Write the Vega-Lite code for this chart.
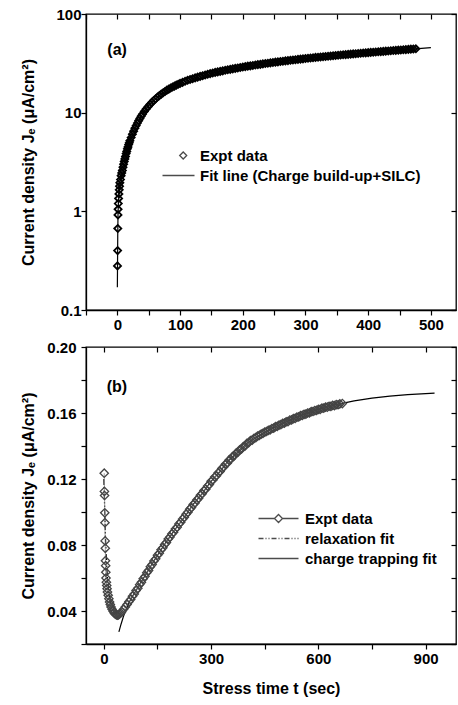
{
  "$schema": "https://vega.github.io/schema/vega-lite/v6.json",
  "padding": {"left": 20, "top": 6, "right": 0, "bottom": 2},
  "spacing": 6,
  "resolve": {"scale": {"shape": "independent"}, "legend": {"shape": "independent"}},
  "config": {
    "font": "Liberation Sans",
    "view": {"stroke": "black", "strokeWidth": 1.3},
    "axis": {
      "labelFont": "Liberation Sans", "labelFontSize": 15, "labelFontWeight": "bold", "labelColor": "black",
      "titleFont": "Liberation Sans", "titleFontSize": 16, "titleFontWeight": "bold", "titleColor": "black",
      "domainColor": "black", "domainWidth": 1.3, "tickColor": "black", "tickWidth": 1.2, "tickSize": 5,
      "grid": false, "labelPadding": 2
    },
    "legend": {
      "labelFont": "Liberation Sans", "labelFontSize": 15, "labelFontWeight": "bold", "labelColor": "black",
      "labelLimit": 0, "padding": 0, "rowPadding": 4, "symbolStrokeWidth": 1.3
    }
  },
  "datasets": {
    "expt_a": [
      {"t":0.2,"J":0.28},{"t":0.4,"J":0.4},{"t":0.7,"J":0.67},{"t":1,"J":0.92},{"t":1.2,"J":1.05},{"t":1.5,"J":1.2},{"t":2,"J":1.35},{"t":2.5,"J":1.5},{"t":3,"J":1.65},{"t":3.5,"J":1.8},{"t":4,"J":1.95},{"t":5,"J":2.1},{"t":6,"J":2.3},{"t":7,"J":2.45},{"t":8,"J":2.6},{"t":9,"J":2.8},{"t":10,"J":3.0},{"t":11,"J":3.2},{"t":12,"J":3.4},{"t":13,"J":3.6},{"t":14,"J":3.85},{"t":15,"J":4.05},{"t":16,"J":4.3},{"t":17,"J":4.5},{"t":18,"J":4.75},{"t":19,"J":4.95},{"t":20,"J":5.2},{"t":22,"J":5.6},{"t":24,"J":6.05},{"t":26,"J":6.5},{"t":28,"J":6.95},{"t":30,"J":7.4},{"t":32,"J":7.85},{"t":34,"J":8.3},{"t":36,"J":8.75},{"t":38,"J":9.2},{"t":40,"J":9.65},{"t":43,"J":10.3},{"t":46,"J":10.9},{"t":49,"J":11.5},{"t":52,"J":12.1},{"t":55,"J":12.7},{"t":58,"J":13.3},{"t":61,"J":13.8},{"t":64,"J":14.4},{"t":67,"J":14.9},{"t":70,"J":15.4},{"t":73,"J":15.9},{"t":76,"J":16.4},{"t":79,"J":16.9},{"t":82,"J":17.3},{"t":85,"J":17.8},{"t":88,"J":18.2},{"t":91,"J":18.6},{"t":94,"J":19.0},{"t":97,"J":19.4},{"t":100,"J":19.8},
      {"t":104,"J":20.3},{"t":108,"J":20.8},{"t":112,"J":21.3},{"t":116,"J":21.7},{"t":120,"J":22.1},{"t":124,"J":22.5},{"t":128,"J":22.9},{"t":132,"J":23.3},{"t":136,"J":23.7},{"t":140,"J":24.1},{"t":144,"J":24.5},{"t":148,"J":24.9},{"t":152,"J":25.2},{"t":156,"J":25.6},{"t":160,"J":25.9},{"t":164,"J":26.2},{"t":168,"J":26.5},{"t":172,"J":26.9},{"t":176,"J":27.2},{"t":180,"J":27.5},{"t":184,"J":27.8},{"t":188,"J":28.1},{"t":192,"J":28.4},{"t":196,"J":28.7},{"t":200,"J":29.0},{"t":204,"J":29.3},{"t":208,"J":29.6},{"t":212,"J":29.8},{"t":216,"J":30.1},{"t":220,"J":30.4},{"t":224,"J":30.7},{"t":228,"J":30.9},{"t":232,"J":31.2},{"t":236,"J":31.5},{"t":240,"J":31.7},{"t":244,"J":32.0},{"t":248,"J":32.2},{"t":252,"J":32.5},{"t":256,"J":32.7},{"t":260,"J":33.0},{"t":264,"J":33.2},{"t":268,"J":33.5},{"t":272,"J":33.7},{"t":276,"J":34.0},{"t":280,"J":34.2},{"t":284,"J":34.4},{"t":288,"J":34.7},{"t":292,"J":34.9},{"t":296,"J":35.1},{"t":300,"J":35.4},{"t":304,"J":35.6},{"t":308,"J":35.8},{"t":312,"J":36.0},{"t":316,"J":36.3},{"t":320,"J":36.5},{"t":324,"J":36.7},{"t":328,"J":36.9},{"t":332,"J":37.1},{"t":336,"J":37.3},{"t":340,"J":37.5},{"t":344,"J":37.8},{"t":348,"J":38.0},{"t":352,"J":38.2},{"t":356,"J":38.4},{"t":360,"J":38.6},{"t":364,"J":38.8},{"t":368,"J":39.0},{"t":372,"J":39.2},{"t":376,"J":39.4},{"t":380,"J":39.6},{"t":384,"J":39.8},{"t":388,"J":40.0},{"t":392,"J":40.2},{"t":396,"J":40.4},{"t":400,"J":40.6},{"t":404,"J":40.8},{"t":408,"J":41.0},{"t":412,"J":41.2},{"t":416,"J":41.4},{"t":420,"J":41.6},{"t":424,"J":41.8},{"t":428,"J":42.0},{"t":432,"J":42.2},{"t":436,"J":42.4},{"t":440,"J":42.6},{"t":444,"J":42.8},{"t":448,"J":43.0},{"t":452,"J":43.2},{"t":456,"J":43.4},{"t":460,"J":43.6},{"t":464,"J":43.8},{"t":468,"J":44.0},{"t":472,"J":44.2},{"t":476,"J":44.4}
    ],
    "fit_a": [
      {"t":0,"J":0.17},{"t":0.3,"J":0.3},{"t":0.6,"J":0.55},{"t":1,"J":0.9},{"t":1.5,"J":1.15},{"t":2.5,"J":1.5},{"t":4,"J":1.95},{"t":6,"J":2.3},{"t":8,"J":2.6},{"t":10,"J":3.0},{"t":14,"J":3.85},{"t":18,"J":4.75},{"t":22,"J":5.6},{"t":26,"J":6.5},{"t":30,"J":7.4},{"t":35,"J":8.5},{"t":40,"J":9.65},{"t":50,"J":11.9},{"t":60,"J":13.6},{"t":70,"J":15.4},{"t":85,"J":17.8},{"t":100,"J":19.8},{"t":120,"J":22.1},{"t":140,"J":24.1},{"t":160,"J":25.9},{"t":180,"J":27.5},{"t":200,"J":29.0},{"t":240,"J":31.7},{"t":280,"J":34.2},{"t":320,"J":36.5},{"t":360,"J":38.6},{"t":400,"J":40.6},{"t":440,"J":42.6},{"t":480,"J":44.6},{"t":500,"J":45.6}
    ],
    "expt_b": [
      {"t":1,"J":0.1235},{"t":1.5,"J":0.1125},{"t":2,"J":0.110},{"t":2.5,"J":0.0995},{"t":3,"J":0.0935},{"t":3.5,"J":0.0825},{"t":4,"J":0.078},{"t":4.5,"J":0.0705},{"t":5,"J":0.0675},{"t":5.5,"J":0.0635},{"t":6,"J":0.060},{"t":7,"J":0.0575},{"t":8,"J":0.0555},{"t":9,"J":0.0535},{"t":10,"J":0.0515},{"t":12,"J":0.0495},{"t":14,"J":0.0475},{"t":16,"J":0.0455},{"t":18,"J":0.044},{"t":20,"J":0.0425},{"t":23,"J":0.041},{"t":26,"J":0.0398},{"t":29,"J":0.0388},{"t":32,"J":0.0381},{"t":35,"J":0.0377},{"t":38,"J":0.0375},{"t":41,"J":0.0377},{"t":44,"J":0.0382},{"t":47,"J":0.0388},{"t":50,"J":0.0395},{"t":55,"J":0.041},{"t":60,"J":0.0425},{"t":65,"J":0.044},{"t":70,"J":0.0456},{"t":75,"J":0.047},{"t":80,"J":0.0489},{"t":85,"J":0.0503},{"t":90,"J":0.0524},{"t":95,"J":0.0538},{"t":100,"J":0.056},{"t":105,"J":0.0574},{"t":110,"J":0.0596},{"t":115,"J":0.061},{"t":120,"J":0.0632},{"t":125,"J":0.0645},{"t":130,"J":0.0668},{"t":135,"J":0.0682},{"t":140,"J":0.0703},{"t":145,"J":0.0716},{"t":150,"J":0.0738},{"t":155,"J":0.075},{"t":160,"J":0.0771},{"t":165,"J":0.0783},{"t":170,"J":0.0803},{"t":175,"J":0.0815},{"t":180,"J":0.0836},{"t":185,"J":0.0848},{"t":190,"J":0.0867},{"t":195,"J":0.0878},{"t":200,"J":0.0897},{"t":205,"J":0.0908},{"t":210,"J":0.0928},{"t":215,"J":0.0938},{"t":220,"J":0.0957},{"t":225,"J":0.0968},{"t":230,"J":0.0987},{"t":235,"J":0.0998},{"t":240,"J":0.1017},{"t":245,"J":0.1027},{"t":250,"J":0.1046},{"t":255,"J":0.1055},{"t":260,"J":0.1073},{"t":265,"J":0.1083},{"t":270,"J":0.1102},{"t":275,"J":0.1111},{"t":280,"J":0.113},{"t":285,"J":0.1138},{"t":290,"J":0.1157},{"t":295,"J":0.1166},{"t":300,"J":0.1186},{"t":305,"J":0.1194},{"t":310,"J":0.1212},{"t":315,"J":0.122},{"t":320,"J":0.1238},{"t":325,"J":0.1246},{"t":330,"J":0.1264},{"t":335,"J":0.1272},{"t":340,"J":0.1289},{"t":345,"J":0.1296},{"t":350,"J":0.1314},{"t":355,"J":0.132},{"t":360,"J":0.1336},{"t":365,"J":0.1342},{"t":370,"J":0.1357},{"t":375,"J":0.1362},{"t":380,"J":0.1377},{"t":385,"J":0.1382},{"t":390,"J":0.1396},{"t":395,"J":0.14},{"t":400,"J":0.1416},{"t":405,"J":0.142},{"t":410,"J":0.1432},{"t":415,"J":0.1436},{"t":420,"J":0.1447},{"t":425,"J":0.1451},{"t":430,"J":0.146},{"t":435,"J":0.1465},{"t":440,"J":0.1472},{"t":445,"J":0.1477},{"t":450,"J":0.1484},{"t":455,"J":0.1488},{"t":460,"J":0.1495},{"t":465,"J":0.1498},{"t":470,"J":0.1506},{"t":475,"J":0.1508},{"t":480,"J":0.1517},{"t":485,"J":0.1519},{"t":490,"J":0.1527},{"t":495,"J":0.1529},{"t":500,"J":0.1537},{"t":505,"J":0.1539},{"t":510,"J":0.1547},{"t":515,"J":0.1548},{"t":520,"J":0.1557},{"t":525,"J":0.1558},{"t":530,"J":0.1566},{"t":535,"J":0.1567},{"t":540,"J":0.1575},{"t":545,"J":0.1576},{"t":550,"J":0.1584},{"t":555,"J":0.1585},{"t":560,"J":0.1592},{"t":565,"J":0.1593},{"t":570,"J":0.16},{"t":575,"J":0.1601},{"t":580,"J":0.1608},{"t":585,"J":0.1609},{"t":590,"J":0.1615},{"t":595,"J":0.1616},{"t":600,"J":0.1622},{"t":605,"J":0.1622},{"t":610,"J":0.1629},{"t":615,"J":0.1629},{"t":620,"J":0.1635},{"t":625,"J":0.1635},{"t":630,"J":0.1641},{"t":635,"J":0.164},{"t":640,"J":0.1646},{"t":645,"J":0.1645},{"t":650,"J":0.1651},{"t":655,"J":0.165},{"t":660,"J":0.1655},{"t":667,"J":0.1657}
    ],
    "relax_b": [
      {"t":0,"J":0.12},{"t":2,"J":0.104},{"t":4,"J":0.088},{"t":6,"J":0.076},{"t":8,"J":0.067},{"t":10,"J":0.06},{"t":13,"J":0.053},{"t":16,"J":0.048},{"t":20,"J":0.0435},{"t":25,"J":0.0405},{"t":30,"J":0.039},{"t":36,"J":0.038}
    ],
    "trap_b": [
      {"t":42,"J":0.0273},{"t":48,"J":0.032},{"t":54,"J":0.0362},{"t":60,"J":0.0398},{"t":66,"J":0.043},{"t":72,"J":0.0458},{"t":80,"J":0.0489},{"t":90,"J":0.0524},{"t":100,"J":0.056},{"t":120,"J":0.0632},{"t":140,"J":0.0703},{"t":160,"J":0.0771},{"t":180,"J":0.0836},{"t":200,"J":0.0897},{"t":225,"J":0.0968},{"t":250,"J":0.1046},{"t":275,"J":0.1111},{"t":300,"J":0.1186},{"t":325,"J":0.1246},{"t":350,"J":0.1314},{"t":375,"J":0.1362},{"t":400,"J":0.1416},{"t":450,"J":0.1484},{"t":500,"J":0.1537},{"t":550,"J":0.1584},{"t":600,"J":0.1622},{"t":650,"J":0.1651},{"t":700,"J":0.1673},{"t":750,"J":0.169},{"t":800,"J":0.1702},{"t":850,"J":0.1711},{"t":900,"J":0.1717},{"t":925,"J":0.172}
    ]
  },
  "vconcat": [
    {
      "width": 370,
      "height": 296,
      "layer": [
        {
          "data": {"name": "fit_a"},
          "mark": {"type": "line", "color": "black", "strokeWidth": 1.2},
          "encoding": {
            "x": {"field": "t", "type": "quantitative", "scale": {"domain": [-50, 540], "nice": false, "zero": false},
                  "axis": {"orient": "top", "values": [-50,0,50,100,150,200,250,300,350,400,450,500], "labels": false, "tickSize": -5, "domain": false, "title": null}},
            "y": {"field": "J", "type": "quantitative", "scale": {"type": "log", "domain": [0.1, 100], "nice": false},
                  "axis": {"orient": "right", "values": [0.1, 1, 10, 100], "labels": false, "tickSize": -5, "domain": false, "title": null}}
          }
        },
        {
          "data": {"name": "expt_a"},
          "mark": {"type": "point", "shape": "diamond", "filled": false, "color": "black", "strokeWidth": 1.8, "size": 50, "opacity": 1},
          "encoding": {
            "x": {"field": "t", "type": "quantitative", "scale": {"domain": [-50, 540], "nice": false, "zero": false},
                  "axis": {"orient": "bottom", "values": [-50,0,50,100,150,200,250,300,350,400,450,500], "labelExpr": "datum.value % 100 === 0 ? datum.label : ''", "format": "d", "title": null}},
            "y": {"field": "J", "type": "quantitative", "scale": {"type": "log", "domain": [0.1, 100], "nice": false},
                  "axis": {"orient": "left", "values": [0.1, 1, 10, 100], "format": "~g", "labelPadding": 0, "titlePadding": 19, "title": "Current density Jₑ (μA/cm²)"}}
          }
        },
        {
          "data": {"values": []},
          "mark": {"type": "point", "filled": false, "color": "black", "strokeWidth": 1.3},
          "encoding": {
            "shape": {"field": "seriesA", "type": "nominal",
              "scale": {"domain": ["Expt data", "Fit line (Charge build-up+SILC)"],
                        "range": ["M0.24,0L0.94,-0.7L1.64,0L0.94,0.7Z", "M-3.2,0L3.2,0"]},
              "legend": {"orient": "none", "legendX": 85, "legendY": 134, "title": null, "symbolSize": 100, "labelOffset": 14}}
          }
        },
        {
          "data": {"values": [{}]},
          "mark": {"type": "text", "font": "Liberation Sans", "fontSize": 16, "fontWeight": "bold", "color": "black", "align": "left", "baseline": "middle"},
          "encoding": {
            "x": {"datum": -16, "type": "quantitative", "axis": null},
            "y": {"datum": 43, "type": "quantitative", "axis": null},
            "text": {"value": "(a)"}
          }
        }
      ],
      "resolve": {"axis": {"x": "independent", "y": "independent"}}
    },
    {
      "width": 370,
      "height": 297,
      "layer": [
        {
          "data": {"name": "trap_b"},
          "mark": {"type": "line", "color": "black", "strokeWidth": 1.2},
          "encoding": {
            "x": {"field": "t", "type": "quantitative", "scale": {"domain": [-50, 985], "nice": false, "zero": false},
                  "axis": {"orient": "top", "values": [0,150,300,450,600,750,900], "labels": false, "tickSize": -5, "domain": false, "title": null}},
            "y": {"field": "J", "type": "quantitative", "scale": {"domain": [0.02, 0.2], "nice": false, "zero": false},
                  "axis": {"orient": "right", "values": [0.02,0.04,0.06,0.08,0.1,0.12,0.14,0.16,0.18,0.2], "labels": false, "tickSize": -5, "domain": false, "title": null}}
          }
        },
        {
          "data": {"name": "relax_b"},
          "mark": {"type": "line", "color": "black", "strokeWidth": 1.2, "strokeDash": [6, 2, 1.5, 2, 1.5, 2]},
          "encoding": {
            "x": {"field": "t", "type": "quantitative", "axis": null},
            "y": {"field": "J", "type": "quantitative", "axis": null}
          }
        },
        {
          "data": {"name": "expt_b"},
          "mark": {"type": "line", "color": "#888888", "strokeWidth": 0.8},
          "encoding": {
            "x": {"field": "t", "type": "quantitative", "axis": null},
            "y": {"field": "J", "type": "quantitative", "axis": null}
          }
        },
        {
          "data": {"name": "expt_b"},
          "mark": {"type": "point", "shape": "diamond", "filled": false, "color": "#444444", "strokeWidth": 1.3, "size": 70, "opacity": 1},
          "encoding": {
            "x": {"field": "t", "type": "quantitative", "scale": {"domain": [-50, 985], "nice": false, "zero": false},
                  "axis": {"orient": "bottom", "values": [0,150,300,450,600,750,900], "labelExpr": "datum.value % 300 === 0 ? datum.label : ''", "format": "d", "title": "Stress time t (sec)", "titlePadding": 14}},
            "y": {"field": "J", "type": "quantitative", "scale": {"domain": [0.02, 0.2], "nice": false, "zero": false},
                  "axis": {"orient": "left", "values": [0.02,0.04,0.06,0.08,0.1,0.12,0.14,0.16,0.18,0.2], "labelExpr": "round(datum.value*100) % 4 === 0 ? format(datum.value, '.2f') : ''", "labelPadding": 5, "titlePadding": 10, "title": "Current density Jₑ (μA/cm²)"}}
          }
        },
        {
          "data": {"values": []},
          "mark": {"type": "point", "filled": false, "color": "black", "strokeWidth": 1.3},
          "encoding": {
            "shape": {"field": "seriesB", "type": "nominal",
              "scale": {"domain": ["Expt data", "relaxation fit", "charge trapping fit"],
                        "range": ["M-4,0L-0.8,0M-0.8,0L0,-0.8L0.8,0L0,0.8ZM0.8,0L4,0",
                                  "M-4,0L-3,0M-2.6,0L-2.4,0M-2,0L-1.8,0M-1.4,0L-0.4,0M0,0L0.2,0M0.6,0L0.8,0M1.2,0L2.2,0M2.6,0L2.8,0M3.2,0L3.4,0M3.8,0L4,0",
                                  "M-4,0L4,0"]},
              "legend": {"orient": "none", "legendX": 185, "legendY": 164, "title": null, "symbolSize": 100, "labelOffset": 19,
                         "encode": {"symbols": {"update": {"stroke": {"signal": "datum.value === 'Expt data' ? '#808080' : 'black'"}}}}}}
          }
        },
        {
          "data": {"values": [{}]},
          "mark": {"type": "text", "font": "Liberation Sans", "fontSize": 16, "fontWeight": "bold", "color": "black", "align": "left", "baseline": "middle"},
          "encoding": {
            "x": {"datum": 8, "type": "quantitative", "axis": null},
            "y": {"datum": 0.176, "type": "quantitative", "axis": null},
            "text": {"value": "(b)"}
          }
        }
      ],
      "resolve": {"axis": {"x": "independent", "y": "independent"}}
    }
  ]
}
